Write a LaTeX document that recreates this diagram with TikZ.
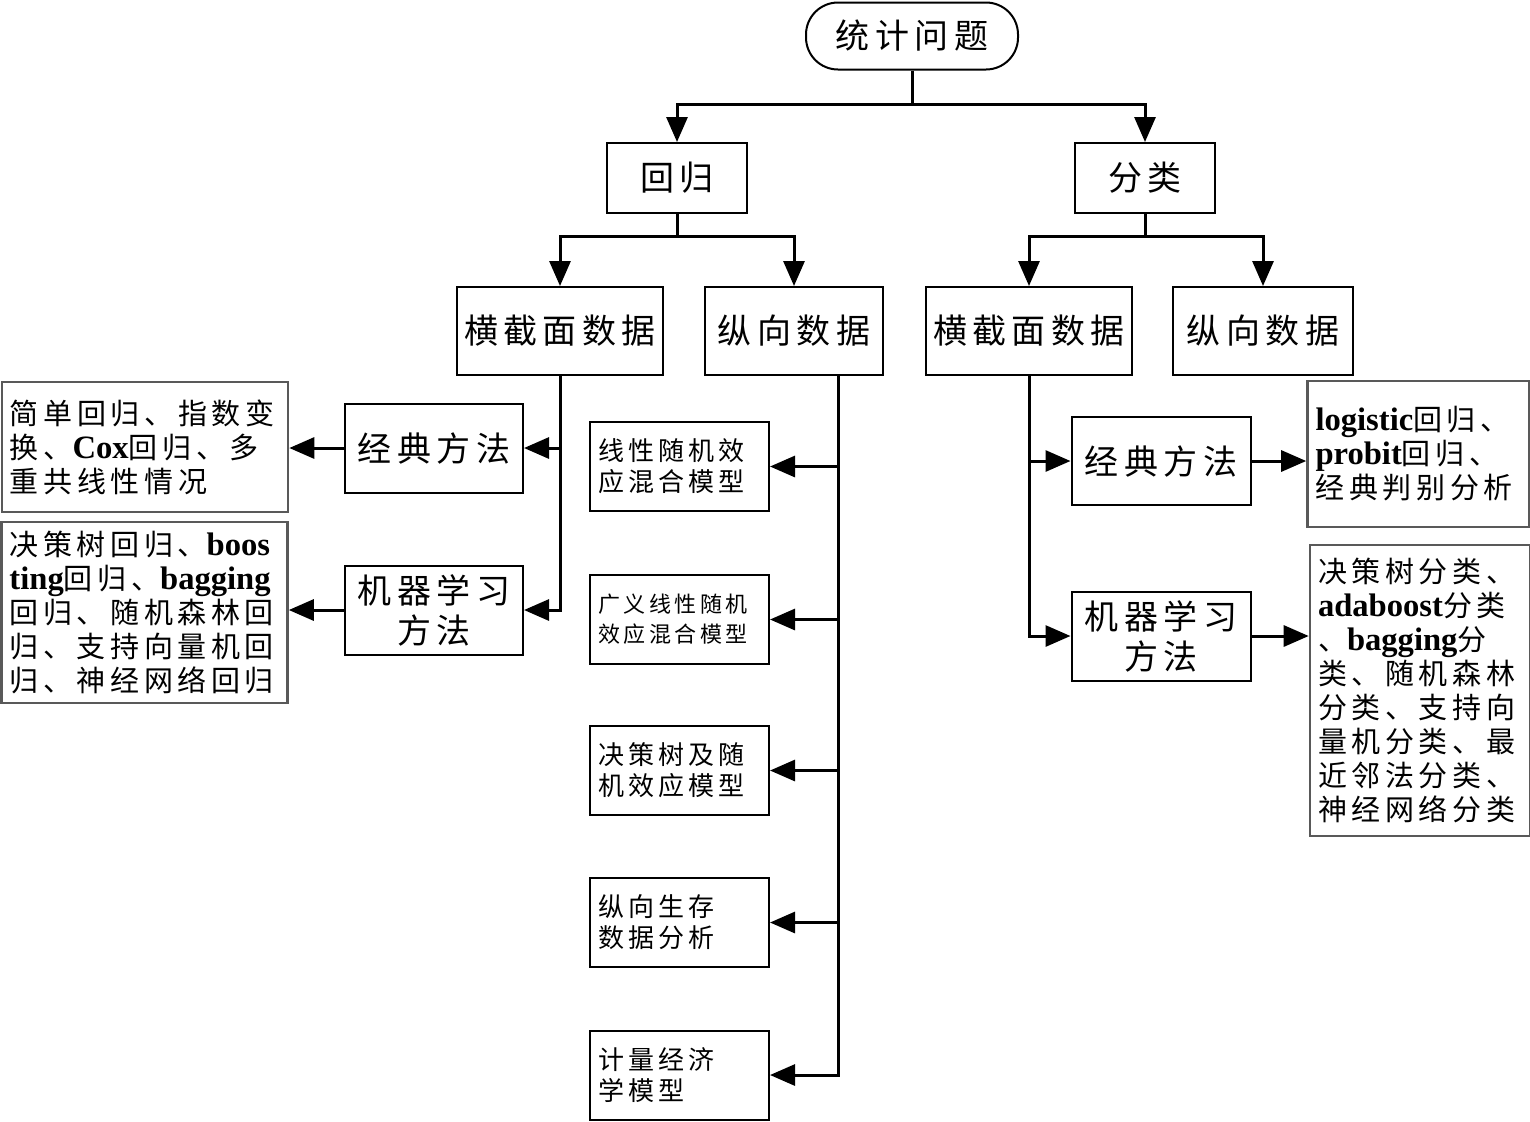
\documentclass[tikz,border=0pt]{standalone}
\usepackage{fontspec}
\setmainfont{Noto Sans CJK SC}
\newfontfamily\cjkwide{Noto Sans CJK SC}[LetterSpace=16]
\newfontfamily\latbold{Liberation Serif}
\newcommand{\entxt}[1]{{\latbold\bfseries\fontsize{16.3}{17}\selectfont #1}}
\usetikzlibrary{arrows.meta,positioning}
\tikzset{
      mainbox/.style={
        draw=black,
        line width=1pt,
        fill=white,
        font=\cjkwide\fontsize{17}{20}\selectfont,
        align=center,
        inner sep=0pt
      },
      startbox/.style={
        mainbox,
        rounded corners=16pt
      },
      textbox/.style={
        draw=black!65,
        line width=1.3pt,
        font=\cjkwide\fontsize{14.5}{17}\selectfont,
        align=left,
        inner xsep=4pt,
        inner ysep=0pt
      },
      modelbox/.style={
        draw=black,
        line width=1pt,
        font=\cjkwide\fontsize{13}{15.5}\selectfont,
        align=left,
        minimum width=89.5pt,
        minimum height=44.5pt,
        text width=81.5pt,
        inner xsep=4pt,
        inner ysep=0pt
      },
      link/.style={line width=1.5pt},
      arr/.style={link, -{Triangle[length=12.5pt,width=10.5pt]}}
    }
\begin{document}
\begin{tikzpicture}[x=0.5pt,y=-0.5pt]
    \useasboundingbox (0,0) rectangle (1530,1121);
    % top levels
    \node[startbox, minimum width=106pt, minimum height=33.5pt] (root) at (912,36) {统计问题};
    \node[mainbox, minimum width=70pt, minimum height=35pt] (reg) at (677,178) {回归};
    \node[mainbox, minimum width=70pt, minimum height=35pt] (cls) at (1145,178) {分类};
    \node[mainbox, minimum width=103pt, minimum height=44pt] (regcross) at (560,331) {横截面数据};
    \node[mainbox, minimum width=89pt, minimum height=44pt] (reglong) at (794,331) {纵向数据};
    \node[mainbox, minimum width=103pt, minimum height=44pt] (clscross) at (1029,331) {横截面数据};
    \node[mainbox, minimum width=90pt, minimum height=44pt] (clslong) at (1263,331) {纵向数据};
    % methods
    \node[mainbox, minimum width=89pt, minimum height=44.5pt] (regclassic) at (434,448) {经典方法};
    \node[mainbox, minimum width=89pt, minimum height=44.5pt] (regml) at (434,610) {机器学习\\方法};
    \node[mainbox, minimum width=89.5pt, minimum height=44pt] (clsclassic) at (1161,461) {经典方法};
    \node[mainbox, minimum width=89.5pt, minimum height=44.5pt] (clsml) at (1161,636) {机器学习\\方法};
    % method lists
    \node[textbox, minimum width=143pt, minimum height=65pt, text width=135pt] (regclassictxt) at (145,447) {简单回归、指数变\\换、\entxt{Cox}回归、多\\重共线性情况};
    \node[textbox, minimum width=142.5pt, minimum height=90.5pt, text width=135pt] (regmltxt) at (144.5,612.5) {决策树回归、\entxt{boos}\\\entxt{ting}回归、\entxt{bagging}\\回归、随机森林回\\归、支持向量机回\\归、神经网络回归};
    \node[textbox, minimum width=109.5pt, minimum height=73pt, text width=103pt] (clsclassictxt) at (1418.5,454) {\entxt{logistic}回归、\\\entxt{probit}回归、\\经典判别分析};
    \node[textbox, minimum width=108pt, minimum height=145.5pt, text width=102pt] (clsmltxt) at (1420,690.5) {决策树分类、\\\entxt{adaboost}分类\\、\entxt{bagging}分\\类、随机森林\\分类、支持向\\量机分类、最\\近邻法分类、\\神经网络分类};
    % longitudinal models
    \node[modelbox] (lmm) at (679.5,466.5) {线性随机效\\应混合模型};
    \node[modelbox, font=\cjkwide\fontsize{11}{15}\selectfont] (glmm) at (679.5,619.5) {广义线性随机\\效应混合模型};
    \node[modelbox] (treere) at (679.5,770.5) {决策树及随\\机效应模型};
    \node[modelbox] (surv) at (679.5,922.5) {纵向生存\\数据分析};
    \node[modelbox] (econ) at (679.5,1075) {计量经济\\学模型};
    % connectors
    \draw[link] (root.south) -- ++(0,34) coordinate (rootjoin);
    \draw[arr] (rootjoin) -| (reg.north);
    \draw[arr] (rootjoin) -| (cls.north);
    \draw[link] (reg.south) -- ++(0,22) coordinate (regjoin);
    \draw[arr] (regjoin) -| (regcross.north);
    \draw[arr] (regjoin) -| (reglong.north);
    \draw[link] (cls.south) -- ++(0,22) coordinate (clsjoin);
    \draw[arr] (clsjoin) -| (clscross.north);
    \draw[arr] (clsjoin) -| (clslong.north);
    \draw[arr] (regcross.south) |- (regclassic.east);
    \draw[arr] (regcross.south) |- (regml.east);
    \draw[arr] (regclassic.west) -- (regclassic.west -| regclassictxt.east);
    \draw[arr] (regml.west) -- (regml.west -| regmltxt.east);
    \coordinate (longbus) at ([xshift=22pt]reglong.south);
    \foreach \m in {lmm,glmm,treere,surv,econ}
      \draw[arr] (longbus) |- (\m.east);
    \draw[arr] (clscross.south) |- (clsclassic.west);
    \draw[arr] (clscross.south) |- (clsml.west);
    \draw[arr] (clsclassic.east) -- (clsclassic.east -| clsclassictxt.west);
    \draw[arr] (clsml.east) -- (clsml.east -| clsmltxt.west);
\end{tikzpicture}
\end{document}
